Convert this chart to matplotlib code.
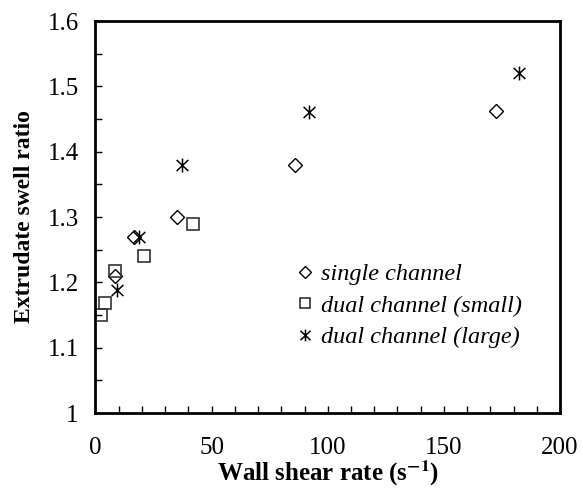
import numpy as np
import matplotlib.pyplot as plt
from matplotlib.path import Path
from matplotlib.ticker import MultipleLocator, FuncFormatter

# single channel
single_x = [8.5, 16.5, 35, 86, 172.5]
single_y = [1.21, 1.27, 1.30, 1.38, 1.462]

# dual channel (small)
small_x = [2.2, 4.0, 8.2, 20.8, 42]
small_y = [1.15, 1.168, 1.218, 1.24, 1.289]

# dual channel (large)
large_x = [9.3, 18.6, 37.3, 91.8, 182.4]
large_y = [1.188, 1.27, 1.38, 1.46, 1.521]

labels = ["single channel", "dual channel (small)", "dual channel (large)"]

plt.rcParams['font.family'] = ['Liberation Serif', 'DejaVu Serif']
plt.rcParams['mathtext.fontset'] = 'stix'

# asterisk: vertical bar plus an X
star = Path([(0, -1), (0, 1), (-0.85, -0.8), (0.85, 0.8), (-0.85, 0.8), (0.85, -0.8)],
            [Path.MOVETO, Path.LINETO, Path.MOVETO, Path.LINETO, Path.MOVETO, Path.LINETO])

fig = plt.figure(figsize=(5.83, 5.0), dpi=100)
ax = fig.add_axes([0.1638, 0.174, 0.9605 - 0.1638, 0.958 - 0.174])

ax.plot(single_x, single_y, linestyle='none', marker='D', markersize=7,
        markerfacecolor='white', markeredgecolor='black', markeredgewidth=1.0, label=labels[0])
ax.plot(small_x, small_y, linestyle='none', marker='s', markersize=9,
        markerfacecolor='none', markeredgecolor='#333333', markeredgewidth=1.2, label=labels[1])
ax.plot(large_x, large_y, linestyle='none', marker=star, markersize=10,
        markerfacecolor='none', markeredgecolor='black', markeredgewidth=1.1, label=labels[2])

ax.set_xlim(0, 200)
ax.set_ylim(1.0, 1.6)
ax.xaxis.set_major_locator(MultipleLocator(50))
ax.xaxis.set_minor_locator(MultipleLocator(10))
ax.yaxis.set_major_locator(MultipleLocator(0.1))
ax.yaxis.set_minor_locator(MultipleLocator(0.05))
ax.yaxis.set_major_formatter(FuncFormatter(lambda v, p: '%g' % round(v, 2)))

ax.tick_params(which='both', direction='in', length=5, width=1.0,
               top=False, right=False, labelsize=18)
ax.tick_params(axis='x', which='major', pad=17)
ax.tick_params(axis='y', which='major', pad=12)
for s in ax.spines.values():
    s.set_linewidth(2.0)

ax.set_xlabel(r'Wall shear rate (s$^{\mathbf{-1}}$)', fontsize=18, fontweight='bold', labelpad=0)
ax.set_ylabel('Extrudate swell ratio', fontsize=17, fontweight='bold', labelpad=9)

leg = ax.legend(loc='upper left', bbox_to_anchor=(298 / 583, 1 - 263 / 500),
                bbox_transform=fig.transFigure, frameon=False,
                prop={'family': 'Liberation Serif', 'style': 'italic', 'size': 17.5},
                handlelength=0.6, handletextpad=0.35, labelspacing=0.4,
                markerscale=0.85, borderaxespad=0, borderpad=0)

fig.savefig('out.png', dpi=100)
